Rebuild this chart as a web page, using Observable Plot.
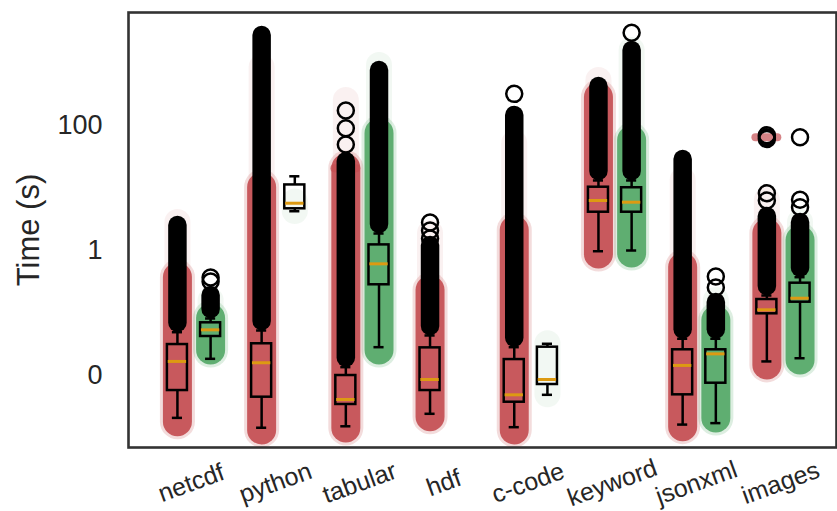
<!DOCTYPE html>
<html>
<head>
<meta charset="utf-8">
<script src="https://cdn.jsdelivr.net/npm/d3@7"></script>
<script src="https://cdn.jsdelivr.net/npm/@observablehq/plot@0.6"></script>
<style>
  html, body { margin: 0; padding: 0; background: #fff; }
</style>
</head>
<body>
<div id="chart"></div>
<script>
// ---------- data (seconds) ----------
const categories = ["netcdf", "python", "tabular", "hdf", "c-code", "keyword", "jsonxml", "images"];
const series = ["red", "green"];
const yTicks = [0.01, 1, 100];
const yTickLabels = ["0", "1", "100"];

// series 1 (red)
const redWhisLo = [0.0021, 0.00146, 0.00154, 0.00244, 0.00149, 0.974, 0.00164, 0.0168];
const redQ1     = [0.00575, 0.0045, 0.00344, 0.00575, 0.00374, 4.1, 0.00491, 0.0971];
const redMed    = [0.0168, 0.016, 0.00413, 0.00863, 0.00491, 6.31, 0.0145, 0.1125];
const redQ3     = [0.0313, 0.0322, 0.01, 0.0277, 0.018, 10.3, 0.0258, 0.1644];
const redWhisHi = [0.0493, 0.0525, 0.0136, 0.0437, 0.0284, 13.2, 0.0387, 0.1905];
const redFlierLo = [0.0687, 0.0731, 0.0189, 0.0608, 0.0395, 18.4, 0.0538, 0.265];
const redFlierHi = [2.51, 2754, 26.5, 1.2, 145, 421, 28.6, 3.5];
const redFlierExtra = [[], [], [49.7, 90.5, 174], [1.56, 2.09, 2.8], [321], [], [], [6.31, 8.26, 61, 65, 70]];
const redStripMin   = [0.00179, 0.00132, 0.00142, 0.00215, 0.00132, 0.863, 0.00149, 0.0145];
const redStripDense = [0.37, 10.2, 20.5, 0.229, 2.09, 281, 0.535, 1.87];
const redStripMax   = [2.8, 847, 251, 1.87, 51.5, 525, 13.2, 6.3];
const redClusters   = [[], [], [20.7], [], [], [], [], [65]];

// series 2 (green)
const greenWhisLo = [0.0185, 4.25, 0.0284, null, 0.00491, 1.0, 0.00173, 0.0189];
const greenQ1     = [0.0421, 4.65, 0.283, null, 0.00718, 4.1, 0.00753, 0.149];
const greenMed    = [0.0538, 5.71, 0.612, null, 0.00863, 5.93, 0.0222, 0.1725];
const greenQ3     = [0.0697, 11.2, 1.23, null, 0.0284, 10.1, 0.0258, 0.3];
const greenWhisHi = [0.0817, 15.4, 1.87, null, 0.0322, 13.2, 0.0387, 0.374];
const greenFlierLo = [0.1138, null, 2.61, null, null, 18.4, 0.0538, 0.521];
const greenFlierHi = [0.19, null, 759, null, null, 1585, 0.147, 2.8];
const greenFlierExtra = [[0.319, 0.37], [], [], [], [], [3041], [0.256, 0.384], [4.93, 6.47, 65]];
const greenStripMin   = [0.0251, 4.2, 0.0251, null, 0.0049, 0.895, 0.00205, 0.0174];
const greenStripDense = [0.0817, null, 74.5, null, null, 57.5, 0.0759, 1.45];
const greenStripMax   = [0.158, 6.0, 912, null, 0.0322, 1585, 0.158, 2.8];
const greenClusters   = [[], [], [], [], [], [], [], []];

// ---------- styling ----------
const colors = {red: "#c44e52", green: "#55a868"};
const medianColor = "#dd9a12";
const textColor = "#262626";
const dodge = 0.197;     // hue offset in category units
const boxHalf = 0.119;   // half box width in category units
const capHalf = 0.06;    // half cap width
const fontFamily = "'Liberation Sans', Arial, Helvetica, sans-serif";

// ---------- build tables ----------
const src = {
  red: {lo: redWhisLo, q1: redQ1, med: redMed, q3: redQ3, hi: redWhisHi, fLo: redFlierLo, fHi: redFlierHi,
        extra: redFlierExtra, sMin: redStripMin, sDense: redStripDense, sMax: redStripMax, clusters: redClusters},
  green: {lo: greenWhisLo, q1: greenQ1, med: greenMed, q3: greenQ3, hi: greenWhisHi, fLo: greenFlierLo, fHi: greenFlierHi,
        extra: greenFlierExtra, sMin: greenStripMin, sDense: greenStripDense, sMax: greenStripMax, clusters: greenClusters}
};
const groups = [];
const fliers = [];
const clusters = [];
categories.forEach((cat, i) => {
  series.forEach((s, h) => {
    const d = src[s];
    if (d.lo[i] == null) return;
    const pos = i + (h === 0 ? -dodge : dodge);
    groups.push({cat, series: s, pos, color: colors[s],
      lo: d.lo[i], q1: d.q1[i], med: d.med[i], q3: d.q3[i], hi: d.hi[i],
      fLo: d.fLo[i], fHi: d.fHi[i], sMin: d.sMin[i], sDense: d.sDense[i], sMax: d.sMax[i]});
    d.extra[i].forEach(v => fliers.push({pos, value: v}));
    d.clusters[i].forEach(v => clusters.push({pos, value: v, color: colors[s]}));
  });
});
const catRows = categories.map((name, i) => ({name, pos: i}));
const withDense = groups.filter(g => g.sDense != null);
const withFliers = groups.filter(g => g.fLo != null);

const chart = Plot.plot({
  width: 837,
  height: 511,
  marginLeft: 128,
  marginRight: 1,
  marginTop: 12,
  marginBottom: 64,
  x: {domain: [-0.778, 7.63], axis: null},
  y: {type: "log", domain: [0.000705, 6430], axis: null},
  style: {fontFamily, background: "white", overflow: "visible"},
  marks: [
    // faint strip points
    Plot.ruleX(groups, {x: "pos", y1: "sMin", y2: "sMax", stroke: "color", strokeWidth: 26, strokeOpacity: 0.08, strokeLinecap: "round"}),
    // fuzzy edge of dense strip
    Plot.ruleX(withDense, {x: "pos", y1: "sMin", y2: "sDense", stroke: "color", strokeWidth: 35, strokeOpacity: 0.2, strokeLinecap: "round"}),
    // dense strip
    Plot.ruleX(withDense, {x: "pos", y1: "sMin", y2: "sDense", stroke: "color", strokeWidth: 29, strokeOpacity: 0.92, strokeLinecap: "round"}),
    // horizontal clusters of points
    Plot.ruleY(clusters, {x1: d => d.pos - 0.13, x2: d => d.pos + 0.13, y: "value", stroke: "color", strokeWidth: 8, strokeOpacity: 0.7, strokeLinecap: "round"}),
    // whiskers
    Plot.ruleX(groups, {x: "pos", y1: "lo", y2: "q1", stroke: "black", strokeWidth: 2.5}),
    Plot.ruleX(groups, {x: "pos", y1: "q3", y2: "hi", stroke: "black", strokeWidth: 2.5}),
    // caps
    Plot.ruleY(groups, {x1: d => d.pos - capHalf, x2: d => d.pos + capHalf, y: "lo", stroke: "black", strokeWidth: 2.5}),
    Plot.ruleY(groups, {x1: d => d.pos - capHalf, x2: d => d.pos + capHalf, y: "hi", stroke: "black", strokeWidth: 2.5}),
    // boxes
    Plot.rect(groups, {x1: d => d.pos - boxHalf, x2: d => d.pos + boxHalf, y1: "q1", y2: "q3", fill: "none", stroke: "black", strokeWidth: 2.5}),
    // medians
    Plot.ruleY(groups, {x1: d => d.pos - boxHalf + 0.01, x2: d => d.pos + boxHalf - 0.01, y: "med", stroke: medianColor, strokeWidth: 3}),
    // dense flier columns (stacked open circles)
    Plot.ruleX(withFliers, {x: "pos", y1: "fLo", y2: "fHi", stroke: "black", strokeWidth: 18.5, strokeLinecap: "round"}),
    // separate fliers
    Plot.dot(fliers, {x: "pos", y: "value", r: 8, fill: "none", stroke: "black", strokeWidth: 2.5}),
    // frame
    Plot.frame({stroke: "#333333", strokeWidth: 2.6}),
    // y axis
    Plot.axisY(yTicks, {tickSize: 0, tickPadding: 26, tickFormat: (d) => yTickLabels[yTicks.indexOf(d)], fontSize: 27, fill: textColor, label: null}),
    Plot.text(["Time (s)"], {frameAnchor: "left", textAnchor: "middle", dx: -99, rotate: -90, fontSize: 31, fill: textColor}),
    // x labels
    Plot.text(catRows, {x: "pos", text: "name", frameAnchor: "bottom", textAnchor: "middle", dy: 43, rotate: -20, fontSize: 25, fill: textColor})
  ]
});
document.getElementById("chart").appendChild(chart);
</script>
</body>
</html>
